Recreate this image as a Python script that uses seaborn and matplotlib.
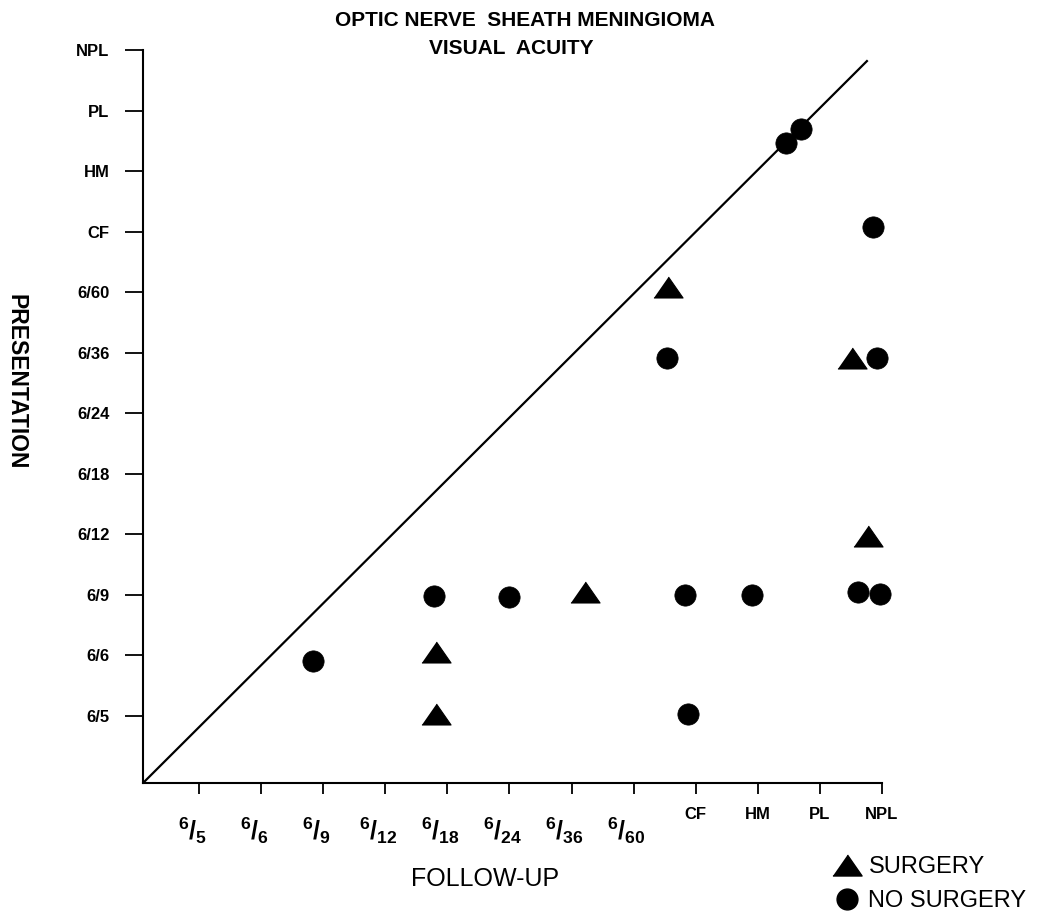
import numpy as np
import pandas as pd
import seaborn as sns
import matplotlib.pyplot as plt
from matplotlib.lines import Line2D
from matplotlib.transforms import ScaledTranslation

# acuity levels, same order on both axes (1 = 6/5 ... 12 = NPL)
levels = ['6/5', '6/6', '6/9', '6/12', '6/18', '6/24', '6/36', '6/60', 'CF', 'HM', 'PL', 'NPL']

# no surgery (circles): follow-up level, presentation level
nosurg_follow = [2.83, 4.79, 6.00, 8.82, 9.90, 11.61, 11.97, 8.88, 8.53, 11.92, 11.85, 10.46, 10.69]
nosurg_present = [1.91, 2.98, 2.97, 3.00, 3.00, 3.05, 3.02, 1.03, 6.92, 6.92, 9.07, 10.47, 10.70]

# surgery (triangles)
surg_follow = [8.56, 11.51, 11.77, 7.21, 4.81, 4.81]
surg_present = [8.08, 6.92, 3.98, 3.05, 2.06, 1.03]

# line of no change
diag_end = (11.77, 11.83)

sns.set_theme(style='ticks')
plt.rcParams['font.family'] = ['Liberation Sans', 'DejaVu Sans']
plt.rcParams['mathtext.fontset'] = 'custom'
plt.rcParams['mathtext.rm'] = 'Liberation Sans'
plt.rcParams['mathtext.bf'] = 'Liberation Sans:bold'
for k in ['text.color', 'axes.labelcolor', 'xtick.color', 'ytick.color', 'axes.edgecolor']:
    plt.rcParams[k] = 'black'

df = pd.DataFrame({
    'follow': nosurg_follow + surg_follow,
    'present': nosurg_present + surg_present,
    'group': ['NO SURGERY'] * len(nosurg_follow) + ['SURGERY'] * len(surg_follow),
})

fig = plt.figure(figsize=(10.5, 9.14), dpi=100)
ax = fig.add_axes([0.1362, 0.1433, 0.7038, 0.802])

x0, y0 = 0.098, -0.107
ax.set_xlim(x0, 12)
ax.set_ylim(y0, 12)

ax.plot([x0, diag_end[0]], [y0, diag_end[1]], color='black', lw=1.6, solid_capstyle='butt')

tri = [(-1, -0.72), (1, -0.72), (0, 0.72)]
sns.scatterplot(data=df[df.group == 'NO SURGERY'], x='follow', y='present',
                marker='o', s=235, color='black', edgecolor='black', linewidth=0.5,
                legend=False, ax=ax, zorder=3, clip_on=False)
sns.scatterplot(data=df[df.group == 'SURGERY'], x='follow', y='present',
                marker=tri, s=440, color='black', edgecolor='black', linewidth=0.8,
                legend=False, ax=ax, zorder=3, clip_on=False)

sns.despine(ax=ax)
for s in ['left', 'bottom']:
    ax.spines[s].set_linewidth(1.5)

# y axis
pos = np.arange(1, len(levels) + 1)
ax.set_yticks(pos)
ax.set_yticklabels(levels, fontsize=12, fontweight='bold')
ax.tick_params(axis='y', length=13, width=1.3, pad=11, direction='out')

# x axis: fractions as major ticks, letter grades as minor ticks
frac = [lv for lv in levels if '/' in lv]
lett = [lv for lv in levels if '/' not in lv]
frac_lab = [r'$^{\mathbf{%s}}\mathbf{/}_{\mathbf{%s}}$' % tuple(f.split('/')) for f in frac]
ax.set_xticks(pos[:len(frac)])
ax.set_xticklabels(frac_lab, fontsize=18)
ax.set_xticks(pos[len(frac):], minor=True)
ax.set_xticklabels(lett, minor=True, fontsize=12, fontweight='bold')
ax.tick_params(axis='x', which='major', length=8, width=1.3, pad=15)
ax.tick_params(axis='x', which='minor', length=8, width=1.3, pad=9)
shift = ScaledTranslation(-5 / 72, 0, fig.dpi_scale_trans)
for lab in ax.get_xticklabels():
    lab.set_transform(lab.get_transform() + shift)

ax.set_xlabel('FOLLOW-UP', fontsize=18, va='top')
ax.xaxis.set_label_coords(0.463, -0.115)
ax.set_ylabel('PRESENTATION', fontsize=16.5, fontweight='bold', rotation=270, va='center')
ax.yaxis.set_label_coords(-0.172, 0.548)

fig.text(0.5, 1 - 20 / 914, 'OPTIC NERVE  SHEATH MENINGIOMA', ha='center', va='center',
         fontsize=15, fontweight='bold')
fig.text(0.487, 1 - 48 / 914, 'VISUAL  ACUITY', ha='center', va='center',
         fontsize=15, fontweight='bold')

handles = [
    Line2D([], [], ls='none', marker=tri, ms=21, color='black'),
    Line2D([], [], ls='none', marker='o', ms=15, color='black'),
]
fig.legend(handles, ['SURGERY', 'NO SURGERY'], loc='upper left',
           bbox_to_anchor=(833 / 1050, 1 - 856 / 914), frameon=False,
           fontsize=17, handlelength=1.2, handletextpad=0.3, labelspacing=0.5,
           borderpad=0, borderaxespad=0)

fig.savefig('out.png', dpi=100)
